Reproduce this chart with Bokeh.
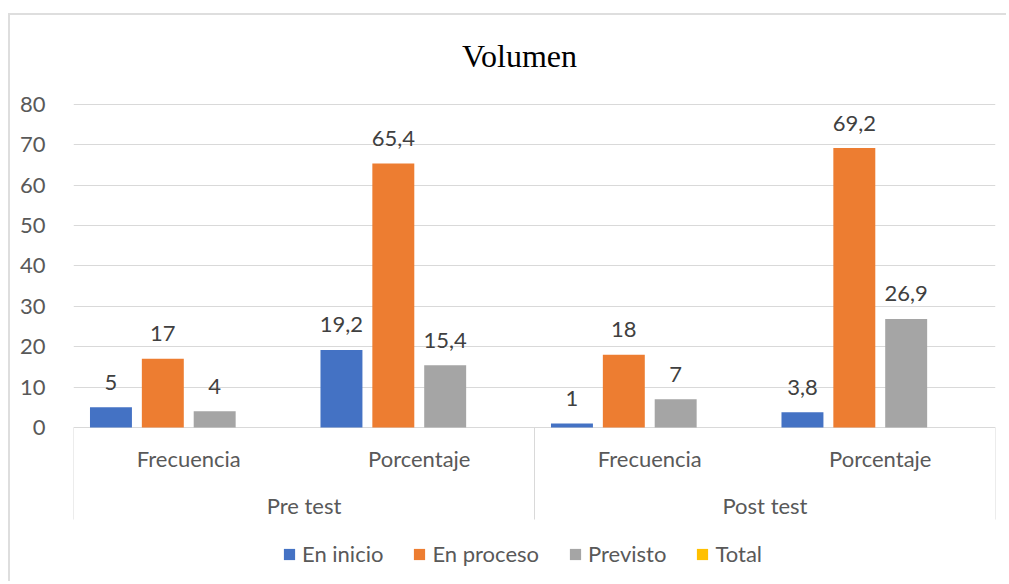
import math
from bokeh.plotting import figure
from bokeh.models import Range1d, FixedTicker, Legend, LegendItem, ColumnDataSource, Label
from bokeh.core.properties import value
from bokeh.embed import file_html
from bokeh.resources import INLINE

# ---- data ----
groups = ["Pre test", "Post test"]
subcats = ["Frecuencia", "Porcentaje"]
series = ["En inicio", "En proceso", "Previsto", "Total"]
en_inicio = [5, 19.2, 1, 3.8]
en_proceso = [17, 65.4, 18, 69.2]
previsto = [4, 15.4, 7, 26.9]
total = [float("nan")] * 4
y_ticks = [0, 10, 20, 30, 40, 50, 60, 70, 80]

colors = ["#4472C4", "#ED7D31", "#A5A5A5", "#FFC000"]
values = [en_inicio, en_proceso, previsto, total]

FONT = "Lato"
FS = "22px"
n_cat = len(groups) * len(subcats)
centers = [i + 0.5 for i in range(n_cat)]

p = figure(width=998, height=568, x_range=Range1d(0, n_cat), y_range=Range1d(-38.64, 102.04),
           x_axis_location=None, output_backend="svg", toolbar_location=None,
           min_border_left=63, min_border_right=13, min_border_top=0, min_border_bottom=0)
p.outline_line_color = None
p.background_fill_color = "white"
p.border_fill_color = "white"
p.styles = {"border-left": "2px solid #dedede", "border-top": "2px solid #dedede",
            "margin-left": "8px", "margin-top": "13px"}
p.xgrid.visible = False
p.ygrid.ticker = FixedTicker(ticks=y_ticks)
p.ygrid.grid_line_color = "#d9d9d9"
p.ygrid.grid_line_width = 1
p.yaxis.ticker = FixedTicker(ticks=y_ticks)
p.yaxis.axis_line_color = None
p.yaxis.major_tick_line_color = None
p.yaxis.minor_tick_line_color = None
p.yaxis.major_label_standoff = 22
p.yaxis.major_label_text_font = FONT
p.yaxis.major_label_text_font_size = FS
p.yaxis.major_label_text_color = "#595959"

bar_w = 0.182
step = 0.225
renderers = []
for k, (name, vals, col) in enumerate(zip(series, values, colors)):
    off = (k - 1.5) * step
    xs = [c + off for c in centers]
    src = ColumnDataSource(dict(x=xs, top=vals,
                                lbl=[("" if (v is None or (isinstance(v, float) and math.isnan(v)))
                                      else (f"{v:g}".replace(".", ","))) for v in vals]))
    r = p.vbar(x="x", top="top", bottom=0, width=bar_w, source=src, fill_color=col, line_color=None)
    renderers.append(r)
    p.text(x="x", y="top", text="lbl", source=src, text_align="center", text_baseline="middle",
           y_offset=-25, text_font=value(FONT), text_font_size=FS, text_color="#404040")

# category separators (Excel-style multi-level axis)
sep_x = [0, len(subcats), n_cat]
p.segment(x0=sep_x, y0=[0] * 3, x1=sep_x, y1=[-22.8] * 3, line_color="#d9d9d9", line_width=1)

# sub-category labels
sub_labels = [s for g in groups for s in subcats]
p.text(x=centers, y=[-7.7] * n_cat, text=sub_labels, text_align="center", text_baseline="middle",
       text_font=value(FONT), text_font_size=FS, text_color="#595959")
# group labels
gx = [len(subcats) * (i + 0.5) for i in range(len(groups))]
p.text(x=gx, y=[-19.3] * len(groups), text=groups, text_align="center", text_baseline="middle",
       text_font=value(FONT), text_font_size=FS, text_color="#595959")

# title
p.add_layout(Label(x=1.935, y=92.1, text="Volumen", text_align="center", text_baseline="middle",
                   text_font="Liberation Serif", text_font_size="32px", text_color="#000000"))

legend = Legend(items=[LegendItem(label=s, renderers=[r]) for s, r in zip(series, renderers)],
                location=(209, 16), orientation="horizontal", glyph_width=14, glyph_height=14,
                label_standoff=6, spacing=29, padding=0, margin=0, border_line_color=None,
                background_fill_alpha=0, label_text_font=FONT, label_text_font_size=FS,
                label_text_color="#595959")
p.add_layout(legend)

open("out.html", "w").write(file_html(p, INLINE))
